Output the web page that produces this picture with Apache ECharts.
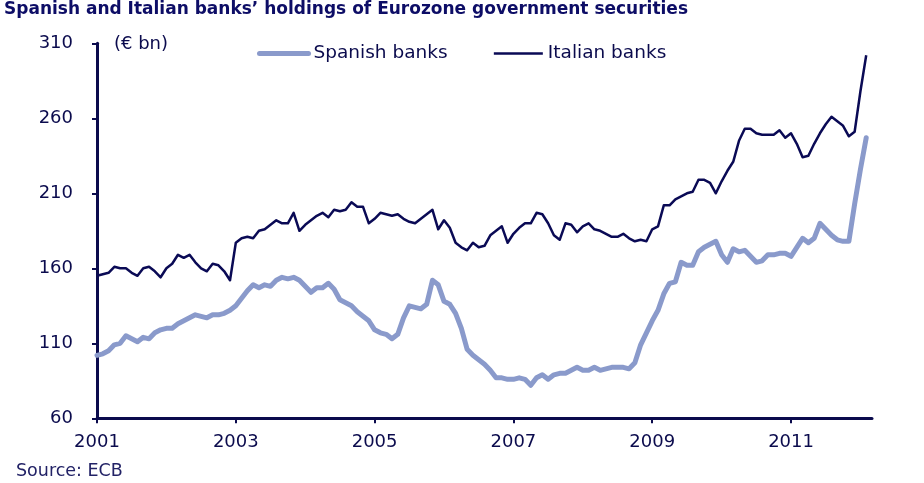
<!DOCTYPE html>
<html>
<head>
<meta charset="utf-8">
<script src="https://cdn.jsdelivr.net/npm/echarts@6/dist/echarts.min.js"></script>
<style>html,body{margin:0;padding:0;background:#fff}#c{width:924px;height:483px}</style>
</head>
<body>
<div id="c"></div>
<script>
// Monthly, Jan 2001 .. Feb 2012 (axis runs to Mar 2012)
const startYear = 2001;
const monthCount = 135;
const yearTickLabels = ['2001', '2003', '2005', '2007', '2009', '2011'];
const yTicks = [60, 110, 160, 210, 260, 310];

const spanishBanks = [
 102,103,105,109,110,115,113,111,114,113,117,119,
 120,120,123,125,127,129,128,127,129,129,130,132,
 135,140,145,149,147,149,148,152,154,153,154,152,
 148,144,147,147,150,146,139,137,135,131,128,125,
 119,117,116,113,116,127,135,134,133,136,152,149,
 138,136,130,120,106,102,99,96,92,87,87,86,
 86,87,86,82,87,89,86,89,90,90,92,94,
 92,92,94,92,93,94,94,94,93,97,109,117,
 125,132,143,150,151,164,162,162,171,174,176,178,
 169,164,173,171,172,168,164,165,169,169,170,170,
 168,174,180,177,180,190,186,182,179,178,178,203,
 226,247
];
const italianBanks = [
 155,156,157,161,160,160,157,155,160,161,158,154,
 160,163,169,167,169,164,160,158,163,162,158,152,
 177,180,181,180,185,186,189,192,190,190,197,185,
 189,192,195,197,194,199,198,199,204,201,201,190,
 193,197,196,195,196,193,191,190,193,196,199,186,
 192,187,177,174,172,177,174,175,182,185,188,177,
 183,187,190,190,197,196,190,182,179,190,189,184,
 188,190,186,185,183,181,181,183,180,178,179,178,
 186,188,202,202,206,208,210,211,219,219,217,210,
 218,225,231,245,253,253,250,249,249,249,252,247,
 250,243,234,235,243,250,256,261,258,255,248,251,
 278,302
];

const months = [];
for (let i = 0; i < monthCount; i++) {
  const y = startYear + Math.floor(i / 12);
  const m = (i % 12) + 1;
  months.push(y + '-' + (m < 10 ? '0' + m : m));
}
const isTick = (idx, val) => val.endsWith('-01') && yearTickLabels.indexOf(val.slice(0, 4)) >= 0;

const navy = '#0b0b4d';
const spanishColor = '#8a9acb';
const italianColor = '#0a0a55';
const font = 'DejaVu Sans, Verdana, sans-serif';

const chart = echarts.init(document.getElementById('c'), null, {renderer: 'canvas'});
chart.setOption({
  animation: false,
  backgroundColor: '#ffffff',
  title: {
    text: 'Spanish and Italian banks\u2019 holdings of Eurozone government securities',
    left: 4, top: 0, padding: [1, 0, 0, 0],
    textStyle: {fontFamily: font, fontWeight: 'bold', fontSize: 17, color: '#0d0d66'}
  },
  legend: {
    left: 257, top: 44, padding: 0,
    itemWidth: 49, itemHeight: 14, itemGap: 45,
    textStyle: {fontFamily: font, fontSize: 18.5, color: navy},
    itemStyle: {opacity: 0},
    data: [
      {name: 'Spanish banks', lineStyle: {width: 5, color: spanishColor, cap: 'round'}},
      {name: 'Italian banks', lineStyle: {width: 2.5, color: italianColor}}
    ]
  },
  graphic: [
    {type: 'text', left: 114, top: 35, style: {text: '(\u20ac bn)', font: '18px ' + font, fill: navy}},
    {type: 'text', left: 16, top: 462, style: {text: 'Source: ECB', font: '17.5px ' + font, fill: '#222266'}}
  ],
  grid: {left: 97, right: 52, top: 43.3, bottom: 64.7, containLabel: false},
  xAxis: {
    type: 'category',
    boundaryGap: false,
    data: months,
    axisLine: {lineStyle: {color: navy, width: 3}},
    axisTick: {show: true, interval: isTick, length: 5, lineStyle: {color: navy, width: 2}},
    axisLabel: {interval: isTick, formatter: v => v.slice(0, 4), margin: 15, fontFamily: font, fontSize: 18, color: navy},
    splitLine: {show: false}
  },
  yAxis: {
    type: 'value',
    min: yTicks[0], max: yTicks[yTicks.length - 1], interval: 50,
    axisLine: {show: true, lineStyle: {color: navy, width: 3}},
    axisTick: {show: true, length: 5, lineStyle: {color: navy, width: 2}},
    axisLabel: {margin: 24, fontFamily: font, fontSize: 18, color: navy},
    splitLine: {show: false}
  },
  series: [
    {name: 'Spanish banks', type: 'line', data: spanishBanks, symbol: 'none',
     lineStyle: {color: spanishColor, width: 5, join: 'round', cap: 'round'}, itemStyle: {color: spanishColor}, z: 2},
    {name: 'Italian banks', type: 'line', data: italianBanks, symbol: 'none',
     lineStyle: {color: italianColor, width: 2.5, join: 'round'}, itemStyle: {color: italianColor}, z: 3}
  ]
});
</script>
</body>
</html>
